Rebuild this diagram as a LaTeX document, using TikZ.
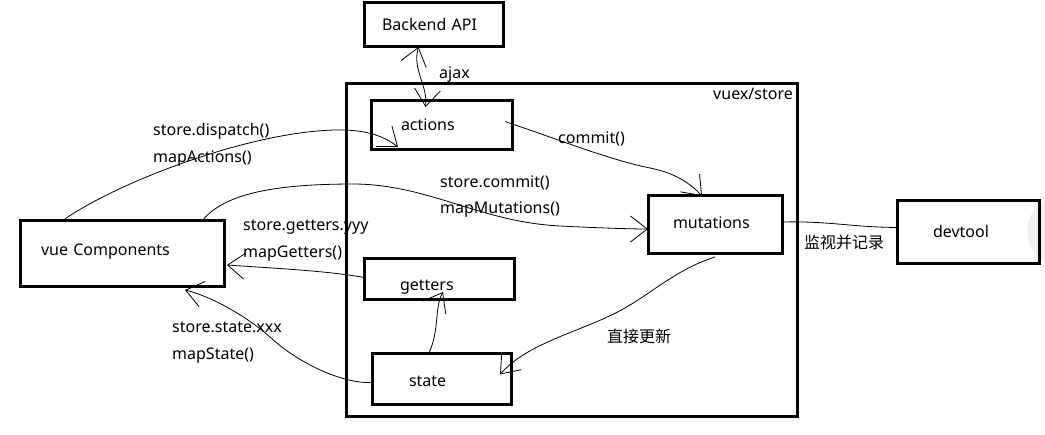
\documentclass[tikz,border=0pt]{standalone}
\usepackage{fontspec}
\setmainfont{Noto Sans}
\newfontfamily\cjk{Noto Sans CJK SC}
\usetikzlibrary{arrows.meta}
\tikzset{
  box/.style={draw,line width=3pt,anchor=north west,align=left,outer sep=0pt,inner ysep=2pt,text depth=3pt},
  lbl/.style={anchor=base west,inner sep=0pt},
  cjklbl/.style={anchor=base west,inner sep=0pt,font=\cjk\fontsize{16}{18}\selectfont},
  wire/.style={line width=0.8pt},
}

\begin{document}
\begin{tikzpicture}[x=1pt,y=-1pt,font=\fontsize{16}{19}\selectfont,>={Straight Barb[length=17pt,width=26pt]}]
\useasboundingbox[fill=white] (0,0) rectangle (1045,435);
\begin{scope}
\clip (0,0) rectangle (1045,435);
\fill[gray!12] (1064,231) circle (36.6pt);
\end{scope}

\node[box,minimum width=451pt,minimum height=333pt,text height=11pt,
  label={[anchor=north east,inner sep=4pt]north east:vuex/store}] (store) at (346,84) {};
\node[box,inner xsep=18pt,text width=103pt,minimum height=44pt,text height=15pt] (api) at (364,3) {Backend API};
\node[box,inner xsep=30pt,text width=81pt,minimum height=49pt,text height=13pt] (actions) at (371,101) {actions};
\node[box,inner xsep=25pt,text width=84pt,minimum height=58pt,text height=11pt] (mutations) at (648,196) {mutations};
\node[box,inner xsep=36pt,text width=78pt,minimum height=41pt,text height=26pt] (getters) at (364,259) {getters};
\node[box,inner xsep=37pt,text width=65pt,minimum height=51pt,text height=18pt] (state) at (372,354) {state};
\node[box,inner xsep=21pt,text width=162pt,minimum height=66pt,text height=7pt] (vue) at (20,221) {vue Components};
\node[box,inner xsep=36pt,text width=70pt,minimum height=63pt,text height=13pt] (devtool) at (897,201) {devtool};

\node[lbl] (dispatchlbl) at (153,136) {store.dispatch()};
\node[lbl] (mapactlbl) at (153,163) {mapActions()};
\node[lbl] (commitlbl) at (440,188) {store.commit()};
\node[lbl] (mapmutlbl) at (440,214) {mapMutations()};
\node[lbl] (getterslbl) at (243,231) {store.getters.yyy};
\node[lbl] (mapgetlbl) at (243,258) {mapGetters()};
\node[lbl] (statelbl) at (172,333) {store.state.xxx};
\node[lbl] (mapstatelbl) at (172,360) {mapState()};
\node[lbl] (ajaxlbl) at (439,79) {ajax};
\node[lbl] (cmtlbl) at (558,144) {commit()};
\node[cjklbl] (updatelbl) at (607,343) {直接更新};
\node[cjklbl] (loglbl) at (804,249) {监视并记录};

\draw[wire,<->] ([xshift=-15pt]api.south) .. controls (412,70) and (428,85) .. ([xshift=-16pt,yshift=-6pt]actions.north);
\draw[wire,->] ([xshift=42pt]vue.north west) .. controls (120,180) and (260,128) .. (345,130)
  .. controls (370,131) and (385,137) .. ([xshift=27pt,yshift=3pt]actions.south west);
\draw[wire,->] ([xshift=182pt]vue.north west) .. controls (225,192) and (280,184) .. (355,184)
  .. controls (430,185) and (480,222) .. (560,226) .. controls (600,228) and (630,229) .. ([yshift=-4pt]mutations.west);
\draw[wire,->] ([yshift=2pt]getters.west) .. controls (330,271) and (270,268) .. ([xshift=3pt,yshift=-11pt]vue.east);
\draw[wire,->] ([yshift=-3pt]state.west) .. controls (345,384) and (300,365) .. (270,337)
  .. controls (245,315) and (210,296) .. ([xshift=63pt,yshift=-3pt]vue.south);
\draw[wire,->] ([xshift=-7pt,yshift=4pt]actions.east) .. controls (560,140) and (610,160) .. (650,168)
  .. controls (675,173) and (690,183) .. ([xshift=-13pt]mutations.north);
\draw[wire,->] ([xshift=-13pt]state.north) .. controls (440,330) and (434,308) .. ([xshift=4pt,yshift=8pt]getters.south);
\draw[wire,->] ([yshift=-3pt]mutations.south) .. controls (680,268) and (655,290) .. (630,305)
  .. controls (590,330) and (530,340) .. ([xshift=-11pt,yshift=5pt]state.east);
\draw[wire] ([yshift=3pt]mutations.east) .. controls (830,221) and (850,227) .. ([yshift=5pt]devtool.west);
\end{tikzpicture}
\end{document}
